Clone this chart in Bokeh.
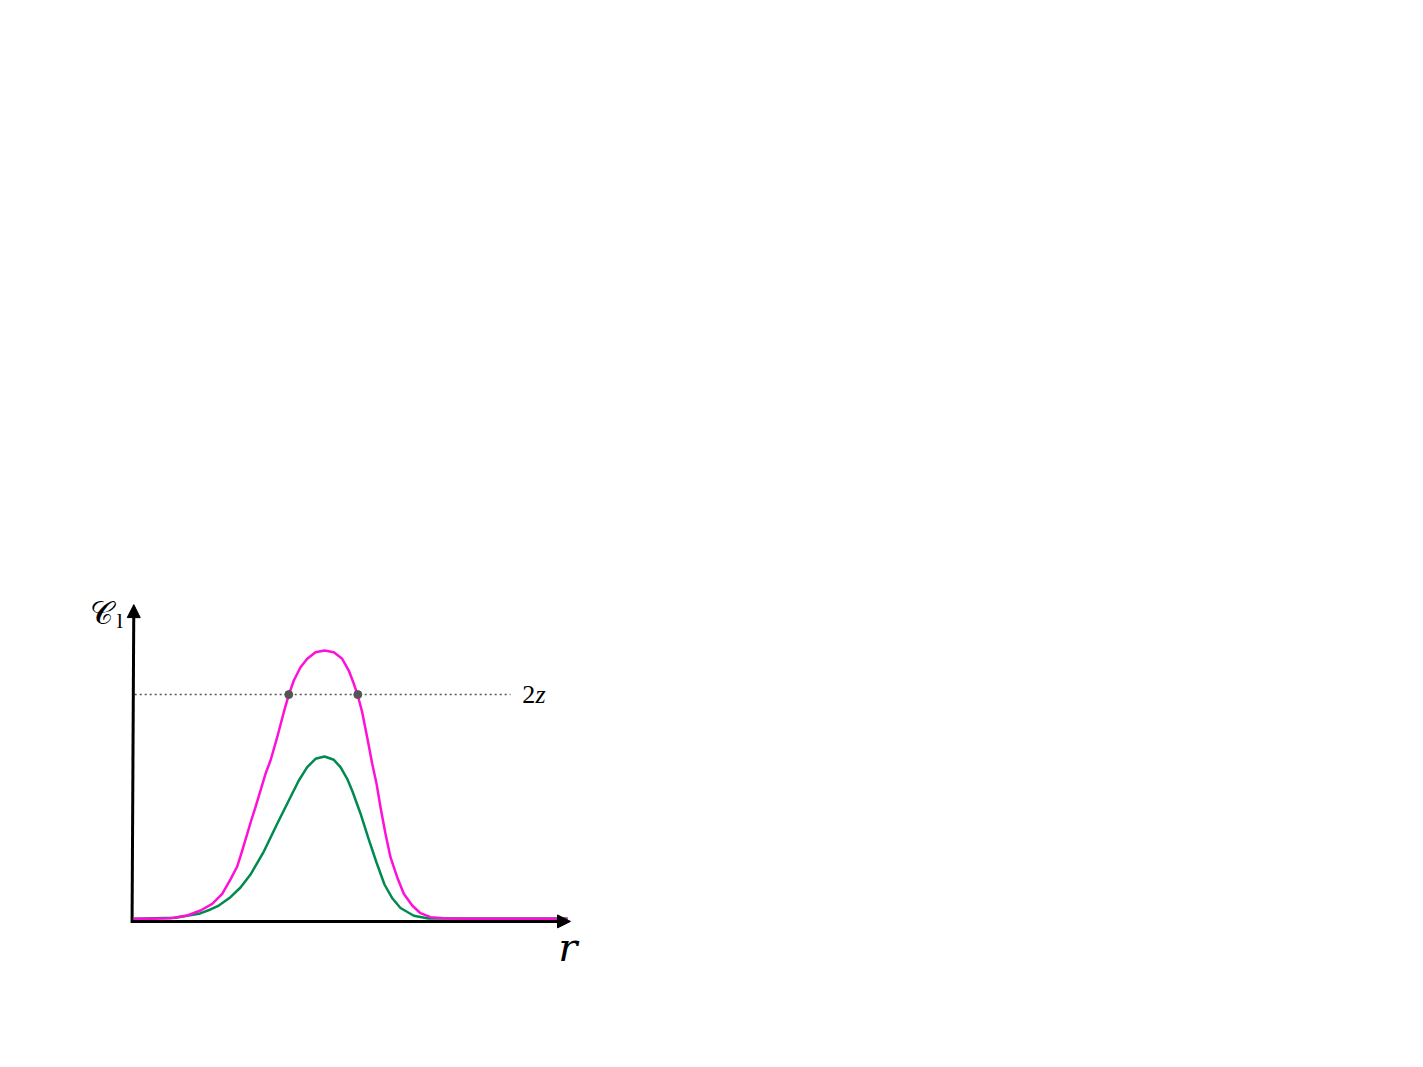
from bokeh.plotting import figure
from bokeh.models import Arrow, NormalHead, Label, Range1d
from bokeh.embed import file_html
from bokeh.resources import INLINE

# ---- data (r in arbitrary units 0..10, C in arbitrary units) ----
r_magenta = [0.030, 0.411, 0.868, 1.249, 1.553, 1.820, 2.048, 2.237, 2.390, 2.505, 2.619,
             2.710, 2.808, 3.037, 3.151, 3.304, 3.454, 3.568, 3.683, 3.836, 3.989, 4.178,
             4.384, 4.596, 4.788, 4.938, 5.053, 5.144, 5.244, 5.358, 5.473, 5.571, 5.662,
             5.776, 5.890, 6.043, 6.194, 6.386, 6.575, 6.804, 7.107, 7.489, 9.932]
c_magenta = [0.0057, 0.0057, 0.0077, 0.0167, 0.0333, 0.0557, 0.0890, 0.1370, 0.1800, 0.2333, 0.2890,
             0.3333, 0.3777, 0.4890, 0.5333, 0.6110, 0.6943, 0.7523, 0.8000, 0.8443, 0.8723, 0.8943,
             0.9000, 0.8943, 0.8723, 0.8333, 0.7890, 0.7500, 0.6943, 0.6110, 0.5223, 0.4567, 0.3777,
             0.2890, 0.2110, 0.1443, 0.0890, 0.0500, 0.0243, 0.0110, 0.0077, 0.0057, 0.0057]

r_green = [0.030, 0.982, 1.514, 1.781, 1.970, 2.237, 2.466, 2.694, 2.998, 3.304, 3.568,
           3.797, 3.989, 4.178, 4.384, 4.596, 4.749, 4.902, 5.023, 5.205, 5.388, 5.571,
           5.753, 5.936, 6.119, 6.422, 6.758, 7.489, 9.932]
c_green = [0.0057, 0.0090, 0.0223, 0.0367, 0.0500, 0.0777, 0.1100, 0.1533, 0.2300, 0.3223, 0.4000,
           0.4667, 0.5110, 0.5390, 0.5467, 0.5357, 0.5110, 0.4723, 0.4300, 0.3567, 0.2733, 0.1933,
           0.1200, 0.0733, 0.0417, 0.0157, 0.0067, 0.0067, 0.0067]

threshold = 0.753           # level "2z"
r_cross = [3.568, 5.144]    # crossings of the magenta curve with 2z
threshold_r_end = 8.63
r_axis_end = 10.0
c_axis_end = 1.053

p = figure(width=1400, height=1040, output_backend="svg", toolbar_location=None,
           x_axis_location=None, y_axis_location=None, min_border=0,
           x_range=Range1d(-3.0137, 28.950), y_range=Range1d(-0.4, 3.0667))
p.grid.visible = False
p.outline_line_color = None
p.background_fill_color = "white"
p.border_fill_color = "white"

# dotted threshold line
p.line([0.05, threshold_r_end], [threshold, threshold], line_color="#555555",
       line_width=1.5, line_dash="2 3")

p.line(r_green, c_green, line_color="#008a50", line_width=2.5, line_join="round")
p.line(r_magenta, c_magenta, line_color="#ff10d8", line_width=2.5, line_join="round")

p.scatter(r_cross, [threshold] * len(r_cross), size=8, fill_color="#555555",
          line_color="#555555")

# axes as arrows
p.add_layout(Arrow(end=NormalHead(size=13, fill_color="black", line_color="black"),
                   x_start=0, y_start=-0.003, x_end=r_axis_end, y_end=-0.003,
                   line_width=3, line_color="black"))
p.add_layout(Arrow(end=NormalHead(size=13, fill_color="black", line_color="black"),
                   x_start=-0.01, y_start=-0.008, x_end=0.03, y_end=c_axis_end,
                   line_width=3, line_color="black"))

p.add_layout(Label(x=8.9, y=threshold, text="2", text_font="Liberation Serif",
                   text_font_size="26px", text_baseline="middle", text_color="black"))
p.add_layout(Label(x=9.2, y=threshold, text="z", text_font="Liberation Serif",
                   text_font_style="italic", text_font_size="26px",
                   text_baseline="middle", text_color="black"))
p.add_layout(Label(x=9.72, y=-0.01, text="r", text_font="DejaVu Serif",
                   text_font_style="italic", text_font_size="40px",
                   text_baseline="top", text_color="black"))
p.add_layout(Label(x=-0.98, y=1.025, text="\U0001D49E", text_font="DejaVu Serif",
                   text_font_size="32px", text_baseline="middle", text_color="black"))
p.add_layout(Label(x=-0.36, y=1.0, text="l", text_font="Liberation Serif",
                   text_font_size="22px", text_baseline="middle", text_color="black"))

open("out.html", "w").write(file_html(p, INLINE))
